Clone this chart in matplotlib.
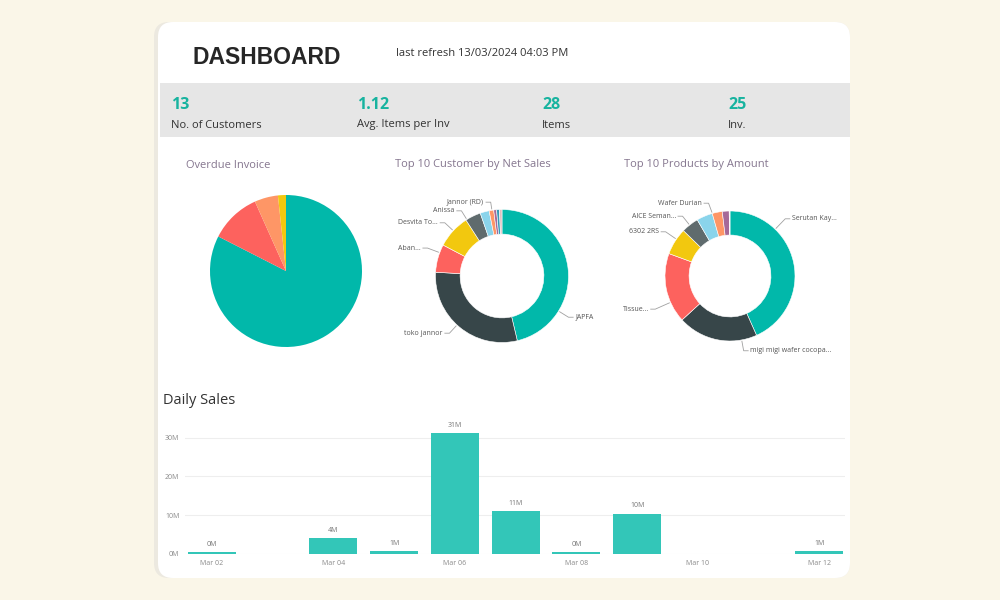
import numpy as np
import matplotlib.pyplot as plt
from matplotlib.patches import FancyBboxPatch, Rectangle

plt.rcParams['font.family'] = ['Open Sans', 'DejaVu Sans']

# ---- data ----
kpi_values = ['13', '1.12', '28', '25']
kpi_labels = ['No. of Customers', 'Avg. Items per Inv', 'Items', 'Inv.']

overdue_share = [82.5, 10.8, 5.0, 1.7]

customer_names = ['JAPFA', 'toko jannor', 'Aban...', 'Desvita To...', 'Anissa',
                  '', 'Jannor (RD)', '', '', '']
customer_sales = [46.3, 29.6, 6.8, 8.2, 3.8, 2.2, 1.1, 0.7, 0.7, 0.6]

product_names = ['Serutan Kay...', 'migi migi wafer cocopa...', 'Tissue...', '6302 2RS',
                 'AICE Seman...', '', 'Wafer Durian', '', '', '']
product_amount = [43.3, 19.9, 17.4, 6.7, 4.3, 4.0, 2.5, 1.7, 0.1, 0.1]

sale_days = [2, 4, 5, 6, 7, 8, 9, 12]          # day of March
daily_sales = [0.4, 4.0, 0.7, 31.2, 11.0, 0.4, 10.4, 0.8]   # millions
tick_days = [2, 4, 6, 8, 10, 12]

# ---- styling ----
pbi_colors = ['#01B8AA', '#374649', '#FD625E', '#F2C80F', '#5F6B6D',
              '#8AD4EB', '#FE9666', '#A66999', '#3599B8', '#DFBFBF']
pie1_colors = ['#01B8AA', '#FD625E', '#FE9666', '#F2C80F']
teal_txt = '#17B39F'
title_col = '#85768F'

# label placement (units of donut radius), text end/start x, y
cust_label_pos = {'JAPFA': (1.10, -0.62), 'toko jannor': (-0.89, -0.86),
                  'Aban...': (-1.22, 0.42), 'Desvita To...': (-0.96, 0.80),
                  'Anissa': (-0.71, 0.98), 'Jannor (RD)': (-0.27, 1.11)}
prod_label_pos = {'Serutan Kay...': (0.95, 0.88), 'migi migi wafer cocopa...': (0.31, -1.15),
                  'Tissue...': (-1.25, -0.51), '6302 2RS': (-1.09, 0.68),
                  'AICE Seman...': (-0.83, 0.92), 'Wafer Durian': (-0.43, 1.12)}

W, H = 1000, 600


def fx(x):
    return x / W


def fy(y):
    return 1 - y / H


fig = plt.figure(figsize=(10, 6), dpi=100)
fig.patch.set_facecolor('#FAF6E8')

# card + shadow
shadow = FancyBboxPatch((fx(154), fy(578)), fx(850 - 154), (578 - 22) / H,
                        boxstyle='round,pad=0,rounding_size=0.015', mutation_aspect=W / H,
                        transform=fig.transFigure, facecolor='#ECE9E0', edgecolor='none', zorder=-3)
card = FancyBboxPatch((fx(158), fy(578)), fx(850 - 158), (578 - 22) / H,
                      boxstyle='round,pad=0,rounding_size=0.015', mutation_aspect=W / H,
                      transform=fig.transFigure, facecolor='white', edgecolor='none', zorder=-2)
band = Rectangle((fx(160), fy(137)), fx(850 - 160), (137 - 83) / H,
                 transform=fig.transFigure, facecolor='#E6E6E6', edgecolor='none', zorder=-1)
fig.add_artist(shadow)
fig.add_artist(card)
fig.add_artist(band)

# header
fig.text(fx(193), fy(57), 'DASHBOARD', fontsize=16.5, fontweight='bold', color='#262626',
         va='center', ha='left', family=['Liberation Sans', 'DejaVu Sans'])
fig.text(fx(396), fy(53), 'last refresh 13/03/2024 04:03 PM', fontsize=8, color='#333333',
         va='center', ha='left')

# KPI band
kpi_x = [171, 357, 542, 728]
for x, v, lab in zip(kpi_x, kpi_values, kpi_labels):
    fig.text(fx(x), fy(105), v, fontsize=11.5, fontweight='bold', color=teal_txt, va='center')
    fig.text(fx(x), fy(125), lab, fontsize=8, color='#333333', va='center')

# chart titles
fig.text(fx(186), fy(165), 'Overdue Invoice', fontsize=8, color=title_col, va='center')
fig.text(fx(395), fy(165), 'Top 10 Customer by Net Sales', fontsize=8, color=title_col, va='center')
fig.text(fx(624), fy(165), 'Top 10 Products by Amount', fontsize=8, color=title_col, va='center')


def pie_axes(cx, cy, r, lim):
    ax = fig.add_axes([fx(cx - lim * r), fy(cy + lim * r), 2 * lim * r / W, 2 * lim * r / H])
    ax.set_facecolor('none')
    return ax


def anchor_angle(w, ex, ey):
    a = np.degrees(np.arctan2(ey, ex))
    lo, hi = w.theta1, w.theta2
    best = None
    for k in (-360, 0, 360):
        c = np.clip(a + k, lo, hi)
        d = abs(c - (a + k))
        if best is None or d < best[0]:
            best = (d, c)
    return np.radians(best[1])


def label_donut(ax, wedges, names, pos):
    for w, name in zip(wedges, names):
        if not name:
            continue
        tx, ty = pos[name]
        s = 1 if tx > 0 else -1
        ex = tx - 0.10 * s
        th = anchor_angle(w, ex, ty)
        axx, axy = 1.02 * np.cos(th), 1.02 * np.sin(th)
        ax.plot([axx, ex, tx - 0.03 * s], [axy, ty, ty], color='#A0A0A0', lw=0.6)
        ax.text(tx, ty, name, fontsize=5, color='#555555', va='center',
                ha='left' if s > 0 else 'right')


# Overdue pie
ax1 = pie_axes(286, 271, 76, 1.05)
ax1.pie(overdue_share, colors=pie1_colors, startangle=90, counterclock=False,
        wedgeprops=dict(linewidth=0))
ax1.set_xlim(-1.05, 1.05)
ax1.set_ylim(-1.05, 1.05)
ax1.axis('off')

# Customers donut
ax2 = pie_axes(502, 276, 66.5, 1.9)
w2, _ = ax2.pie(customer_sales, colors=pbi_colors, startangle=90, counterclock=False,
                wedgeprops=dict(width=0.37, edgecolor='white', linewidth=0.4))
label_donut(ax2, w2, customer_names, cust_label_pos)
ax2.set_xlim(-1.9, 1.9)
ax2.set_ylim(-1.9, 1.9)
ax2.axis('off')

# Products donut
ax3 = pie_axes(730, 276, 65, 1.9)
w3, _ = ax3.pie(product_amount, colors=pbi_colors, startangle=90, counterclock=False,
                wedgeprops=dict(width=0.37, edgecolor='white', linewidth=0.4))
label_donut(ax3, w3, product_names, prod_label_pos)
ax3.set_xlim(-1.9, 1.9)
ax3.set_ylim(-1.9, 1.9)
ax3.axis('off')

# Daily sales
fig.text(fx(163), fy(400), 'Daily Sales', fontsize=10.5, color='#333333', va='center')
axb = fig.add_axes([fx(185), fy(554), fx(845 - 185), (554 - 426) / H])
axb.set_facecolor('none')
bars = axb.bar(sale_days, daily_sales, width=0.79, color='#33C6B8')
for d, v in zip(sale_days, daily_sales):
    axb.annotate(f'{round(v)}M', (d, v), xytext=(0, 3), textcoords='offset points',
                 ha='center', va='bottom', fontsize=5, color='#777777')
axb.set_xlim(sale_days[0] - 0.44, sale_days[-1] + 0.42)
axb.set_ylim(0, 33)
axb.set_yticks([0, 10, 20, 30])
axb.set_yticklabels(['0M', '10M', '20M', '30M'])
axb.set_xticks(tick_days)
axb.set_xticklabels([f'Mar {d:02d}' for d in tick_days])
axb.tick_params(length=0, labelsize=5, labelcolor='#8A8A8A', pad=4)
axb.grid(axis='y', color='#EEEEEE', lw=0.8)
axb.set_axisbelow(True)
for sp in axb.spines.values():
    sp.set_visible(False)

fig.savefig('out.png', dpi=100, facecolor=fig.get_facecolor())
